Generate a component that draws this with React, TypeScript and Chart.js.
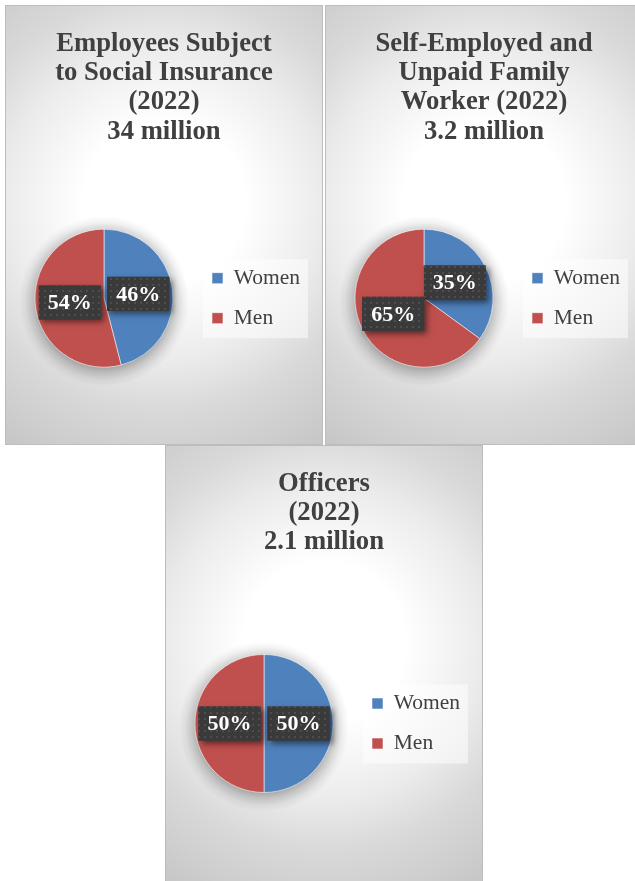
import React, { useEffect, useRef } from "react";
import { Chart, registerables } from "chart.js";

Chart.register(...registerables);

// ---- data ----
const categories = ["Women", "Men"];
const employeesValues = [46, 54];
const selfEmployedValues = [35, 65];
const officersValues = [50, 50];
const employeesTitle = ["Employees Subject", "to Social Insurance", "(2022)", "34 million"];
const selfEmployedTitle = ["Self-Employed and", "Unpaid Family", "Worker (2022)", "3.2 million"];
const officersTitle = ["Officers", "(2022)", "2.1 million"];
const sliceColors = ["#4F81BD", "#C0504D"];

const SERIF = "'Liberation Serif', 'Times New Roman', serif";
const PANEL_W = 318;
const PANEL_H = 440;
const CANVAS_W = PANEL_W - 2;
const CANVAS_H = PANEL_H - 2;
const PIE_BOX = 139;

let dotPattern: CanvasPattern | null = null;
function getPattern(ctx: CanvasRenderingContext2D) {
  if (dotPattern) return dotPattern;
  const c = document.createElement("canvas");
  c.width = 6;
  c.height = 6;
  const g = c.getContext("2d")!;
  g.fillStyle = "#3a3a3a";
  g.fillRect(0, 0, 6, 6);
  g.fillStyle = "#4d4d4d";
  g.fillRect(2, 2, 2, 2);
  dotPattern = ctx.createPattern(c, "repeat");
  return dotPattern;
}

const pieShadowPlugin = {
  id: "pieShadow",
  beforeDatasetsDraw(chart: any) {
    const meta = chart.getDatasetMeta(0);
    const arc = meta.data[0];
    if (!arc) return;
    const ctx: CanvasRenderingContext2D = chart.ctx;
    const r = arc.outerRadius;
    const x = arc.x;
    const y = arc.y + 3;
    ctx.save();
    const g = ctx.createRadialGradient(x, y, r - 4, x, y, r + 16);
    g.addColorStop(0, "rgba(0,0,0,0.30)");
    g.addColorStop(0.35, "rgba(0,0,0,0.16)");
    g.addColorStop(0.7, "rgba(0,0,0,0.05)");
    g.addColorStop(1, "rgba(0,0,0,0)");
    ctx.fillStyle = g;
    ctx.beginPath();
    ctx.arc(x, y, r + 16, 0, Math.PI * 2);
    ctx.fill();
    ctx.restore();
  },
};

const pctLabelPlugin = {
  id: "pctLabels",
  afterDatasetsDraw(chart: any) {
    const ctx: CanvasRenderingContext2D = chart.ctx;
    const meta = chart.getDatasetMeta(0);
    const data = chart.data.datasets[0].data as number[];
    ctx.save();
    ctx.font = `bold 22px ${SERIF}`;
    meta.data.forEach((arc: any, i: number) => {
      const p = arc.getCenterPoint();
      const text = `${data[i]}%`;
      const w = ctx.measureText(text).width + 18;
      const h = 34;
      const x0 = p.x - w / 2;
      const y0 = p.y - h / 2;
      ctx.save();
      ctx.shadowColor = "rgba(0,0,0,0.5)";
      ctx.shadowBlur = 6;
      ctx.shadowOffsetX = 3;
      ctx.shadowOffsetY = 3;
      ctx.fillStyle = "#3a3a3a";
      ctx.fillRect(x0, y0, w, h);
      ctx.restore();
      ctx.fillStyle = getPattern(ctx) || "#3a3a3a";
      ctx.fillRect(x0, y0, w, h);
      ctx.fillStyle = "#ffffff";
      ctx.textAlign = "center";
      ctx.textBaseline = "middle";
      ctx.fillText(text, p.x, p.y + 1);
    });
    ctx.restore();
  },
};

const legendPlacePlugin = {
  id: "legendPlace",
  afterLayout(chart: any) {
    // fix the pie's square area at the left, keep the title centred on the panel
    const ca = chart.chartArea;
    ca.right = ca.left + PIE_BOX;
    ca.width = PIE_BOX;
    const lg = chart.legend;
    if (!lg) return;
    const cx = (ca.left + ca.right) / 2;
    const target = cx + 108 - lg.options.labels.padding;
    const d = target - lg.left;
    lg.left += d;
    lg.right += d;
  },
  beforeDraw(chart: any) {
    const ca = chart.chartArea;
    const cx = (ca.left + ca.right) / 2;
    const cy = (ca.top + ca.bottom) / 2;
    const ctx = chart.ctx;
    ctx.save();
    ctx.fillStyle = "rgba(255,255,255,0.5)";
    ctx.fillRect(cx + 99, cy - 39, 105, 79);
    ctx.restore();
  },
};

function PiePanel(props: { titleLines: string[]; values: number[]; left: number; top: number }) {
  const ref = useRef<HTMLCanvasElement>(null);
  useEffect(() => {
    const chart = new Chart(ref.current!, {
      type: "pie",
      data: {
        labels: categories,
        datasets: [
          {
            data: props.values,
            backgroundColor: sliceColors,
            borderColor: "rgba(255,255,255,0.55)",
            borderWidth: 1,
            hoverOffset: 0,
            offset: 0,
          },
        ],
      },
      options: {
        responsive: false,
        animation: false,
        events: [],
        layout: { padding: { left: 28.5, right: 28.5, top: 0, bottom: 12 } },
        plugins: {
          title: {
            display: true,
            text: props.titleLines,
            color: "#404040",
            font: { family: SERIF, size: 26.67, weight: "bold", lineHeight: 1.1 },
            padding: { top: 23, bottom: 18 },
          },
          legend: {
            display: true,
            position: "right",
            fullSize: false,
            align: "center",
            labels: {
              color: "#404040",
              font: { family: SERIF, size: 21.5 },
              boxWidth: 11,
              boxHeight: 11,
              padding: 18.5,
            },
          },
          tooltip: { enabled: false },
        },
      } as any,
      plugins: [pieShadowPlugin, pctLabelPlugin, legendPlacePlugin],
    });
    return () => chart.destroy();
  }, []);
  return (
    <div
      style={{
        position: "absolute",
        left: props.left,
        top: props.top,
        width: PANEL_W,
        height: PANEL_H,
        boxSizing: "border-box",
        border: "1px solid #bdbdbd",
        background:
          "radial-gradient(circle farthest-corner at 50% 45%, #ffffff 0%, #ffffff 28%, #ebebeb 55%, #d9d9d9 72%, #c6c6c6 100%)",
      }}
    >
      <canvas
        ref={ref}
        width={CANVAS_W}
        height={CANVAS_H}
        style={{ display: "block", width: CANVAS_W, height: CANVAS_H }}
      />
    </div>
  );
}

export default function App() {
  return (
    <div
      style={{
        position: "fixed",
        left: 0,
        top: 0,
        width: 635,
        height: 881,
        overflow: "hidden",
        background: "#ffffff",
      }}
    >
      <PiePanel titleLines={employeesTitle} values={employeesValues} left={5} top={5} />
      <PiePanel titleLines={selfEmployedTitle} values={selfEmployedValues} left={325} top={5} />
      <PiePanel titleLines={officersTitle} values={officersValues} left={165} top={445} />
    </div>
  );
}
